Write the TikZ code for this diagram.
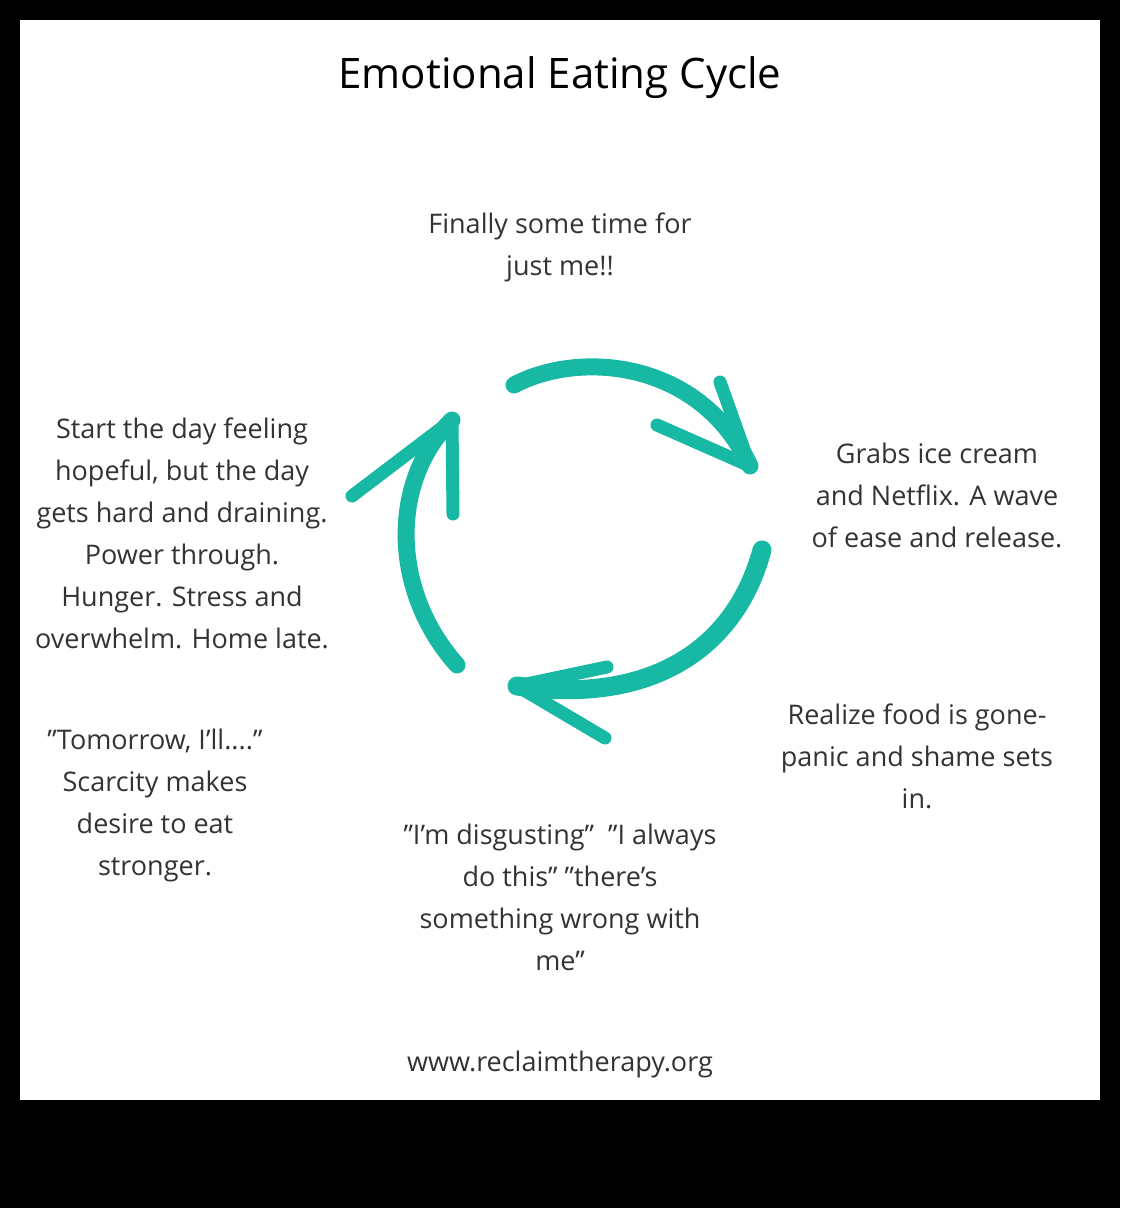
\documentclass[tikz,border=0pt]{standalone}
\usepackage{fontspec}
\setmainfont{Open Sans}
\definecolor{teal1}{HTML}{17B8A4}
\definecolor{txt}{HTML}{333333}
\begin{document}
\begin{tikzpicture}[x=1pt,y=-1pt,
  lbl/.style={align=center,text=txt,font=\fontsize{27}{42}\selectfont,inner sep=0pt},
  arc/.style={draw=teal1,line width=17pt,line cap=round},
  wing/.style={draw=teal1,line width=13pt,line cap=round}]
\fill[black] (0,0) rectangle (1120,1208);
\fill[white] (20,20) rectangle (1100,1100);
\useasboundingbox (0,0) rectangle (1120,1208);
\node[lbl,font=\fontsize{42}{50}\selectfont,text=black] (title) at (560,78) {Emotional Eating Cycle};
\node[lbl] (t1) at (560,247) {Finally some time for\\just me!!};
\node[lbl] (t2) at (937,495) {Grabs ice cream\\and Netflix. A wave\\of ease and release.};
\node[lbl] (t3) at (917,756) {Realize food is gone-\\panic and shame sets\\in.};
\node[lbl] (t4) at (560,897) {"I'm disgusting"\ \ "I always\\do this" "there's\\something wrong with\\me"};
\node[lbl] (t5) at (155,805) {"Tomorrow, I'll...."\\Scarcity makes\\desire to eat\\stronger.};
\node[lbl] (t6) at (182,533) {Start the day feeling\\hopeful, but the day\\gets hard and draining.\\Power through.\\Hunger. Stress and\\overwhelm. Home late.};
\node[lbl] (url) at (560,1064) {www.reclaimtherapy.org};
% arrow 1
\coordinate (a1s) at (514,385); \coordinate (a1t) at (750,466);
\draw[arc] (a1s) .. controls (580,350) and (700,360) .. (a1t);
\draw[wing] (a1t) -- (657,425);
\draw[wing] (a1t) -- (720,382);
% arrow 2
\coordinate (a2s) at (762,550); \coordinate (a2t) at (517,686);
\draw[arc,line width=19pt] (a2s) .. controls (735,650) and (650,705) .. (a2t);
\draw[wing] (a2t) -- (607,667);
\draw[wing] (a2t) -- (605,738);
% arrow 3
\coordinate (a3s) at (457,665); \coordinate (a3t) at (452,420);
\draw[arc] (a3s) .. controls (390,590) and (390,480) .. (a3t);
\draw[wing] (a3t) -- (352,496);
\draw[wing] (a3t) -- (453,514);
\end{tikzpicture}
\end{document}
